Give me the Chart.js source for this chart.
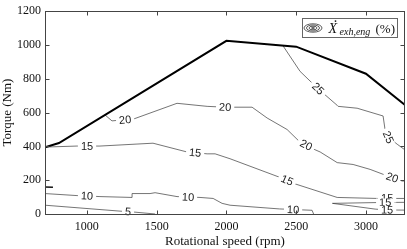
<!DOCTYPE html>
<html>
<head>
<meta charset="utf-8">
<script src="https://cdn.jsdelivr.net/npm/chart.js@4.4.0/dist/chart.umd.min.js"></script>
<style>
html,body{margin:0;padding:0;background:#fff;}
</style>
</head>
<body>
<canvas id="c" width="407" height="249"></canvas>
<script>
// full load torque curve
var maxRpm = [700, 800, 2000, 2500, 3000, 3280];
var maxTorque = [395, 420, 1025, 990, 830, 645];

// contour lines of exhaust exergy share (%)
var c25Rpm = [2406, 2528, 2657, 2794, 2801, 2937, 3123, 3138, 3159, 3224, 3280];
var c25Torque = [995, 844, 741, 643, 637, 626, 580, 494, 454, 413, 379];

var c20Rpm = [1130, 1180, 1338, 1646, 1862, 1991, 2184, 2292, 2435, 2528, 2622, 2672, 2794, 2908, 3030, 3123, 3260, 3280];
var c20Torque = [586, 551, 563, 655, 637, 632, 632, 568, 500, 425, 385, 367, 304, 293, 264, 235, 195, 195];

var c15Rpm = [700, 929, 1094, 1474, 1718, 1862, 1919, 2026, 2399, 2493, 2794, 3080, 3280];
var c15Torque = [396, 402, 402, 419, 367, 356, 356, 327, 212, 178, 98, 92, 92];

var c15bRpm = [3280, 3100, 2760, 3066, 3150, 3280];
var c15bTorque = [69, 68, 63, 29, 24, 23];

var c10Rpm = [700, 929, 1094, 1324, 1324, 1453, 1489, 1646, 1811, 1905, 1969, 2026, 2380, 2614, 2625];
var c10Torque = [121, 109, 103, 98, 121, 121, 126, 103, 98, 92, 63, 52, 30, 22, 0];

var c10bRpm = [700, 757];
var c10bTorque = [160, 158];

var c5Rpm = [700, 1238, 1345, 1489];
var c5Torque = [52, 17, 11, 0];

// contour labels: which line, where, text
var lblLine = ['c20', 'c20', 'c20', 'c20', 'c25', 'c25', 'c15', 'c15', 'c15', 'c15', 'c15b', 'c15b', 'c10', 'c10', 'c10', 'c5'];
var lblRpm = [1274, 1991, 2571, 3188, 2657, 3159, 1001, 1776, 2435, 3152, 3138, 3152, 1001, 1725, 2478, 1295];
var lblTorque = [557, 632, 408, 215, 741, 454, 402, 362, 199, 92, 68, 24, 106, 100, 26, 14];
var lblText = ['20', '20', '20', '20', '25', '25', '15', '15', '15', '15', '15', '15', '10', '10', '10', '5'];

var xTicks = [1000, 1500, 2000, 2500, 3000];
var yTicks = [0, 200, 400, 600, 800, 1000, 1200];

function pts(xs, ys) {
	var out = [];
	for (var i = 0; i < xs.length; i++) out.push({x: xs[i], y: ys[i]});
	return out;
}

var lines = {
	c25: pts(c25Rpm, c25Torque),
	c20: pts(c20Rpm, c20Torque),
	c15: pts(c15Rpm, c15Torque),
	c15b: pts(c15bRpm, c15bTorque),
	c10: pts(c10Rpm, c10Torque),
	c10b: pts(c10bRpm, c10bTorque),
	c5: pts(c5Rpm, c5Torque)
};

function contourSet(key) {
	return {
		label: key,
		data: lines[key],
		borderColor: '#3a3a3a',
		borderWidth: 0.7,
		pointRadius: 0,
		showLine: true,
		tension: 0
	};
}

var serif = '"Liberation Serif", "DejaVu Serif", serif';

var labelPlugin = {
	id: 'contourLabels',
	afterDatasetsDraw: function(chart) {
		var ctx = chart.ctx;
		var xs = chart.scales.x, ys = chart.scales.y;
		ctx.save();
		ctx.font = '11px "Liberation Sans", Arial, sans-serif';
		ctx.textAlign = 'center';
		ctx.textBaseline = 'middle';
		for (var i = 0; i < lblText.length; i++) {
			var px = xs.getPixelForValue(lblRpm[i]);
			var py = ys.getPixelForValue(lblTorque[i]);
			// angle from nearest segment of the line
			var line = lines[lblLine[i]];
			var best = 1e9, ang = 0;
			for (var j = 0; j < line.length - 1; j++) {
				var ax = xs.getPixelForValue(line[j].x), ay = ys.getPixelForValue(line[j].y);
				var bx = xs.getPixelForValue(line[j + 1].x), by = ys.getPixelForValue(line[j + 1].y);
				var dx = bx - ax, dy = by - ay;
				var len2 = dx * dx + dy * dy;
				if (len2 == 0) continue;
				var t = ((px - ax) * dx + (py - ay) * dy) / len2;
				t = Math.max(0, Math.min(1, t));
				var qx = ax + t * dx - px, qy = ay + t * dy - py;
				var d = qx * qx + qy * qy;
				if (d < best) {
					best = d;
					ang = Math.atan2(dy, dx);
				}
			}
			if (ang > Math.PI / 2) ang -= Math.PI;
			if (ang < -Math.PI / 2) ang += Math.PI;
			var w = ctx.measureText(lblText[i]).width;
			ctx.save();
			ctx.translate(px, py);
			ctx.rotate(ang);
			ctx.fillStyle = '#fff';
			ctx.fillRect(-w / 2 - 3, -4, w + 6, 8);
			ctx.fillStyle = '#222';
			ctx.fillText(lblText[i], 0, 0.5);
			ctx.restore();
		}
		ctx.restore();
	}
};

var framePlugin = {
	id: 'frame',
	afterDraw: function(chart) {
		var ctx = chart.ctx;
		var a = chart.chartArea;
		var xs = chart.scales.x, ys = chart.scales.y;
		var l = Math.round(a.left) + 0.5, r = Math.round(a.right) - 0.5;
		var t = Math.round(a.top) + 0.5, b = Math.round(a.bottom) + 0.5;
		ctx.save();
		ctx.strokeStyle = '#444';
		ctx.lineWidth = 1;
		ctx.strokeRect(l, t, r - l, b - t);
		ctx.beginPath();
		xTicks.forEach(function(v) {
			var p = Math.round(xs.getPixelForValue(v)) + 0.5;
			ctx.moveTo(p, b); ctx.lineTo(p, b - 4);
			ctx.moveTo(p, t); ctx.lineTo(p, t + 4);
		});
		yTicks.forEach(function(v) {
			var p = Math.round(ys.getPixelForValue(v)) + 0.5;
			ctx.moveTo(l, p); ctx.lineTo(l + 4, p);
			ctx.moveTo(r, p); ctx.lineTo(r - 4, p);
		});
		ctx.stroke();

		// legend box
		var bx = Math.round(a.right) - 102.5, by = Math.round(a.top) + 7.5;
		ctx.fillStyle = '#fff';
		ctx.fillRect(bx, by, 95, 19);
		ctx.strokeStyle = '#666';
		ctx.strokeRect(bx, by, 95, 19);
		var cx = bx + 10.5, cy = by + 9.5;
		ctx.strokeStyle = '#333';
		ctx.lineWidth = 0.8;
		[[9, 4.2], [6.5, 3], [4, 1.8], [1.6, 0.7]].forEach(function(rr) {
			ctx.beginPath();
			ctx.ellipse(cx, cy, rr[0], rr[1], 0, 0, Math.PI * 2);
			ctx.stroke();
		});
		ctx.fillStyle = '#111';
		ctx.textBaseline = 'alphabetic';
		ctx.textAlign = 'left';
		ctx.font = 'italic 14px ' + serif;
		ctx.fillText('X', bx + 26, by + 14);
		ctx.beginPath();
		ctx.arc(bx + 33, by + 2.6, 0.9, 0, Math.PI * 2);
		ctx.fill();
		ctx.font = 'italic 10px ' + serif;
		ctx.fillText('exh,eng', bx + 37, by + 16.5);
		ctx.font = '13px ' + serif;
		ctx.fillText('(%)', bx + 73, by + 14.5);
		ctx.restore();
	}
};

var datasets = [{
	label: 'max',
	data: pts(maxRpm, maxTorque),
	borderColor: '#000',
	borderWidth: 2,
	pointRadius: 0,
	showLine: true,
	tension: 0
}];
['c25', 'c20', 'c15', 'c15b', 'c10', 'c5'].forEach(function(k) {
	datasets.push(contourSet(k));
});
var shortSet = contourSet('c10b');
shortSet.borderColor = '#111';
shortSet.borderWidth = 1.4;
datasets.push(shortSet);

function plain(v) { return String(v); }

new Chart(document.getElementById('c'), {
	type: 'scatter',
	data: {datasets: datasets},
	options: {
		responsive: false,
		animation: false,
		devicePixelRatio: 1,
		layout: {padding: {top: 5, right: 2, left: 0, bottom: 0}},
		plugins: {legend: {display: false}, tooltip: {enabled: false}},
		scales: {
			x: {
				type: 'linear',
				min: 700,
				max: 3280,
				grid: {display: false, drawTicks: false, tickLength: 0},
				border: {display: false},
				afterBuildTicks: function(s) {
					s.ticks = xTicks.map(function(v) { return {value: v}; });
				},
				afterFit: function(s) { s.height = 35; },
				ticks: {color: '#111', font: {family: serif, size: 12}, padding: 6, maxRotation: 0, callback: plain},
				title: {display: true, text: 'Rotational speed (rpm)', color: '#111', font: {family: serif, size: 13}, padding: 0}
			},
			y: {
				min: 0,
				max: 1200,
				grid: {display: false, drawTicks: false, tickLength: 0},
				border: {display: false},
				afterBuildTicks: function(s) {
					s.ticks = yTicks.map(function(v) { return {value: v}; });
				},
				afterFit: function(s) { s.width = 45; },
				ticks: {color: '#111', font: {family: serif, size: 12}, padding: 4, callback: plain},
				title: {display: true, text: 'Torque (Nm)', color: '#111', font: {family: serif, size: 13}, padding: 0}
			}
		}
	},
	plugins: [labelPlugin, framePlugin]
});
</script>
</body>
</html>
